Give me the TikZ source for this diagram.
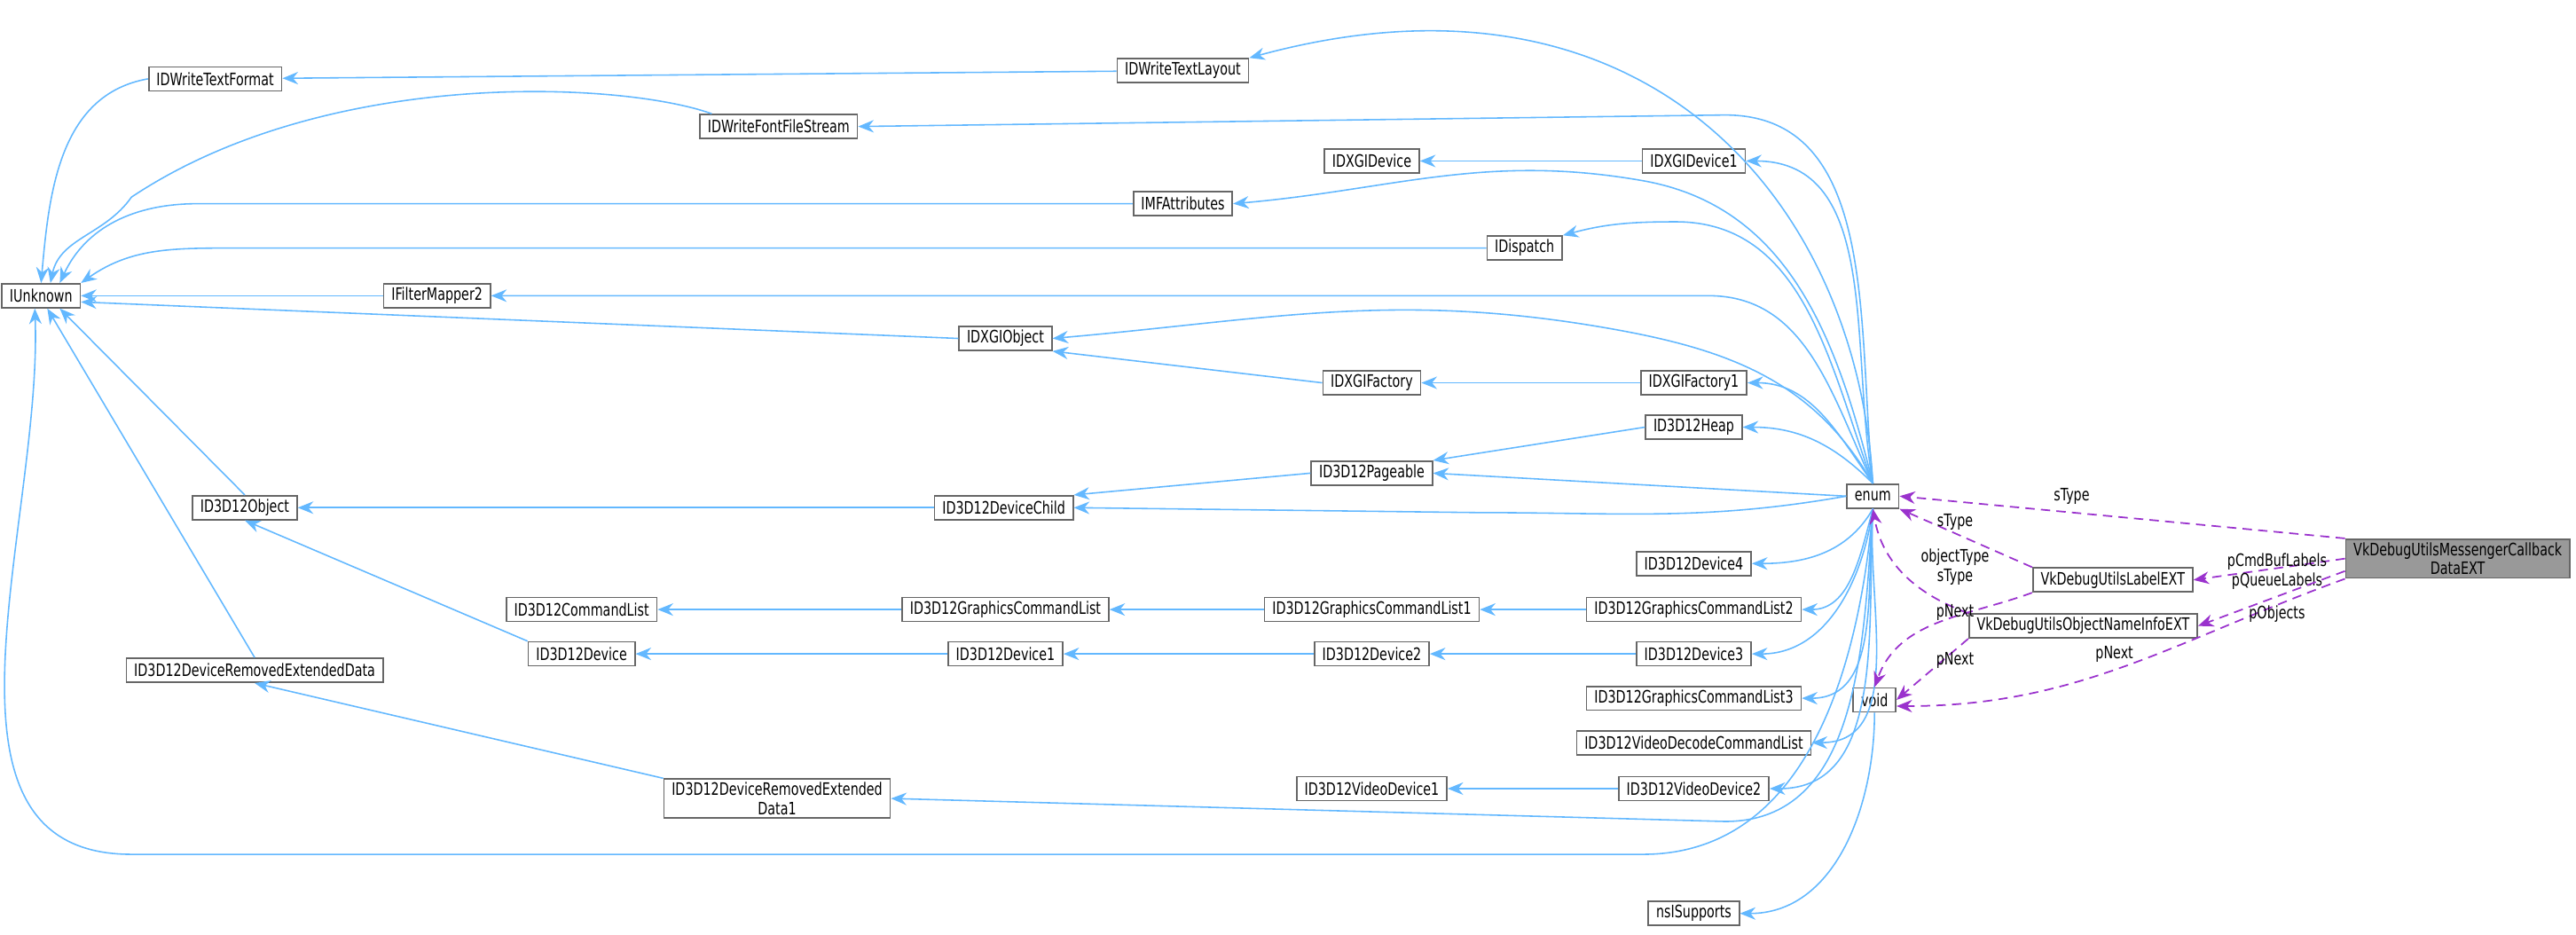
\documentclass[tikz,border=0pt]{standalone}
\usepackage{fontspec}
\setmainfont{DejaVu Sans}[FakeStretch=0.74]
\usetikzlibrary{arrows.meta}
\definecolor{inh}{HTML}{63B8FF}
\definecolor{use}{HTML}{9A32CD}
\definecolor{bord}{HTML}{666666}
\begin{document}
\begin{tikzpicture}[x=0.01852cm,y=-0.01852cm,
  box/.style={draw=bord,fill=white,line width=0.5pt,inner xsep=2.5pt,inner ysep=1pt,minimum height=0.27cm,font=\fontsize{5.5}{6.2}\selectfont,align=center},
  hl/.style={box,fill=gray!80},
  ih/.style={draw=inh,line width=0.45pt,-{Stealth[length=5pt,width=4pt]}},
  us/.style={draw=use,line width=0.5pt,dashed,dash pattern=on 3pt off 2pt,-{Stealth[length=5pt,width=4pt]}},
  lab/.style={font=\fontsize{5.5}{6.2}\selectfont,align=center,inner sep=0pt}]
\useasboundingbox (0,0) rectangle (1568,569);
% nodes
\node[box] (iunk) at (25,180) {IUnknown};
\node[box] (dwtf) at (131,48) {IDWriteTextFormat};
\node[box] (dwffs) at (474,77) {IDWriteFontFileStream};
\node[box] (dwtl) at (720,43) {IDWriteTextLayout};
\node[box] (dxgid) at (835,98) {IDXGIDevice};
\node[box] (dxgid1) at (1031,98) {IDXGIDevice1};
\node[box] (mfa) at (720,124) {IMFAttributes};
\node[box] (disp) at (928,151) {IDispatch};
\node[box] (fm2) at (266,180) {IFilterMapper2};
\node[box] (dxgio) at (612,206) {IDXGIObject};
\node[box] (dxgif) at (835,233) {IDXGIFactory};
\node[box] (dxgif1) at (1031,233) {IDXGIFactory1};
\node[box] (heap) at (1031,260) {ID3D12Heap};
\node[box] (pag) at (835,288) {ID3D12Pageable};
\node[box] (dchild) at (611,309) {ID3D12DeviceChild};
\node[box] (obj) at (149,309) {ID3D12Object};
\node[box] (enum) at (1140,302) {enum};
\node[box] (dev4) at (1031,343) {ID3D12Device4};
\node[box] (cl) at (354,371) {ID3D12CommandList};
\node[box] (gcl) at (612,371) {ID3D12GraphicsCommandList};
\node[box] (gcl1) at (835,371) {ID3D12GraphicsCommandList1};
\node[box] (gcl2) at (1031,371) {ID3D12GraphicsCommandList2};
\node[box] (dev) at (354,398) {ID3D12Device};
\node[box] (dev1) at (612,398) {ID3D12Device1};
\node[box] (dev2) at (835,398) {ID3D12Device2};
\node[box] (dev3) at (1031,398) {ID3D12Device3};
\node[box] (dred) at (155,408) {ID3D12DeviceRemovedExtendedData};
\node[box] (gcl3) at (1031,425) {ID3D12GraphicsCommandList3};
\node[box] (void) at (1141,426) {void};
\node[box] (vdcl) at (1031,452) {ID3D12VideoDecodeCommandList};
\node[box] (vd1) at (835,480) {ID3D12VideoDevice1};
\node[box] (vd2) at (1031,480) {ID3D12VideoDevice2};
\node[box] (dred1) at (473,486) {ID3D12DeviceRemovedExtended\\Data1};
\node[box] (nsi) at (1031,556) {nsISupports};
\node[box] (lab) at (1286,353) {VkDebugUtilsLabelEXT};
\node[box] (oni) at (1268,381) {VkDebugUtilsObjectNameInfoEXT};
\node[hl] (cb) at (1496,340) {VkDebugUtilsMessengerCallback\\DataEXT};
% inheritance edges to IUnknown
\draw[ih] (dwtf.west) to[out=190,in=85] (iunk.north);
\draw[ih] ([xshift=4pt]dwffs.north west) .. controls (380,50) and (200,40) .. (80,120) to[out=-125,in=78] ([xshift=3pt]iunk.north);
\draw[ih] (mfa.west) -- (120,124) to[out=180,in=65] ([xshift=6pt]iunk.north);
\draw[ih] (disp.west) -- (140,151) to[out=180,in=35] (iunk.north east);
\draw[ih] (fm2) -- (iunk);
\draw[ih] (dxgio.west) -- ([yshift=-2pt]iunk.east);
\draw[ih] (obj.north) -- ([xshift=6pt]iunk.south);
\draw[ih] (dred.north) -- ([xshift=2pt]iunk.south);
\draw[ih] (enum.south) to[out=-95,in=0] (1000,520) -- (80,520) to[out=180,in=-88] ([xshift=-2pt]iunk.south);
% other inheritance
\draw[ih] (dwtl) -- (dwtf);
\draw[ih] (enum.north) .. controls (1130,120) and (1000,-30) .. (dwtl.north east);
\draw[ih] (enum.north) to[out=96,in=0] (1050,70) -- (dwffs.east);
\draw[ih] (dxgid1) -- (dxgid);
\draw[ih] (enum.north) to[out=100,in=0] (dxgid1.east);
\draw[ih] (enum.north) to[out=104,in=-10] (1000,110) to[out=170,in=5] (mfa.east);
\draw[ih] (enum.north) to[out=110,in=0] (1020,135) to[out=180,in=15] (disp.north east);
\draw[ih] (enum.north) to[out=115,in=0] (1040,180) -- (fm2.east);
\draw[ih] (enum.north) to[out=120,in=-10] (980,200) to[out=170,in=5] (dxgio.east);
\draw[ih] (dxgif.west) -- (dxgio.south east);
\draw[ih] (dxgif1) -- (dxgif);
\draw[ih] (enum.north) to[out=125,in=0] (dxgif1.east);
\draw[ih] (heap.west) -- (pag.north east);
\draw[ih] (enum.north) to[out=135,in=0] (heap.east);
\draw[ih] (enum.west) -- (pag.east);
\draw[ih] (pag.west) -- (dchild.north east);
\draw[ih] (enum.west) to[out=190,in=0] (900,312) -- (dchild.east);
\draw[ih] (dchild) -- (obj);
\draw[ih] (dev.north west) -- (obj.south);
\draw[ih] (enum.south) to[out=-120,in=0] (dev4.east);
\draw[ih] (gcl) -- (cl);
\draw[ih] (gcl1) -- (gcl);
\draw[ih] (gcl2) -- (gcl1);
\draw[ih] (enum.south) to[out=-105,in=0] (gcl2.east);
\draw[ih] (dev1) -- (dev);
\draw[ih] (dev2) -- (dev1);
\draw[ih] (dev3) -- (dev2);
\draw[ih] (enum.south) to[out=-98,in=0] (dev3.east);
\draw[ih] (enum.south) to[out=-95,in=0] (gcl3.east);
\draw[ih] (enum.south) to[out=-94,in=0] (vdcl.east);
\draw[ih] (enum.south) to[out=-93,in=0] (vd2.east);
\draw[ih] (vd2) -- (vd1);
\draw[ih] (dred1.north west) -- (dred.south);
\draw[ih] (enum.south) to[out=-94,in=0] (1050,500) -- (dred1.east);
\draw[ih] (void.south) to[out=-90,in=0] (nsi.east);
% usage edges
\draw[us] (cb.north west) -- (enum.east);
\node[lab] (l1) at (1261,302) {sType};
\draw[us] (lab.north west) -- (enum.south east);
\node[lab] (l2) at (1190,318) {sType};
\draw[us] (oni.north west) to[out=160,in=-80] (enum.south);
\node[lab] (l3) at (1190,345) {objectType\\sType};
\draw[us] (lab.south west) to[out=200,in=70] (void.north);
\node[lab] (l4) at (1190,373) {pNext};
\draw[us] (oni.south west) -- (void.east);
\node[lab] (l5) at (1190,402) {pNext};
\draw[us] (cb.south west) to[out=200,in=0] ([yshift=-2pt]void.east);
\node[lab] (l6) at (1287,398) {pNext};
\draw[us] (cb.west) -- (lab.east);
\node[lab] (l7) at (1386,348) {pCmdBufLabels\\pQueueLabels};
\draw[us] ([yshift=-4pt]cb.west) -- (oni.east);
\node[lab] (l8) at (1386,374) {pObjects};
\end{tikzpicture}
\end{document}
